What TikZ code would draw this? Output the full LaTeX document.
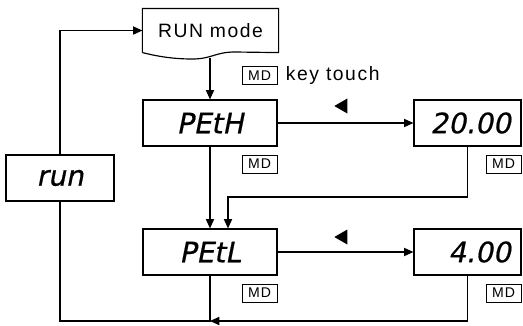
\documentclass[tikz,border=0pt]{standalone}
\usepackage{fontspec}
\setmainfont{Liberation Sans}[LetterSpace=8]
\newfontfamily\segfont{DejaVu Sans}[FakeSlant=0.2, FakeBold=0.6]
\usetikzlibrary{arrows.meta, positioning, shapes.geometric}

\begin{document}
\begin{tikzpicture}[
    x=0.03cm, y=-0.03cm,
    line width=1pt,
    >={Triangle[length=8pt, width=7pt]},
    font=\fontsize{16.5}{18}\selectfont,
    disp/.style={draw, minimum width=4.02cm, minimum height=1.38cm, font=\segfont\fontsize{24}{24}\selectfont},
    dispval/.style={disp, minimum width=3.21cm, text width=2.6cm, align=right},
    mdbox/.style={draw, line width=0.8pt, minimum width=1.05cm, minimum height=0.54cm, inner sep=0pt, font=\fontsize{12}{12}\selectfont},
    leftkey/.style={regular polygon, regular polygon sides=3, shape border rotate=90, fill=black, inner sep=0pt, minimum size=0.52cm},
]
    \useasboundingbox (0,0) rectangle (523,325);

    % RUN mode sheet
    \node[minimum width=4.05cm, minimum height=1.29cm] (runmode) at (210.5,30.5) {RUN mode};
    \draw (runmode.south west) -- (runmode.north west) -- (runmode.north east) -- (runmode.south east) -- (235,52) .. controls (215,52) and (212,59) .. (192,59) .. controls (172,59) and (156,56) .. (runmode.south west);
    \coordinate (wave) at (210,58);

    \node[mdbox] (mdtouch) at (259.5,75.5) {MD};
    \node[right=0.12cm of mdtouch] (touch) {key touch};

    \node[disp] (peth) at (210,123) {PEtH};
    \node[dispval] (pethval) at (467.5,123) {20.00};
    \node[disp] (petl) at (210,252) {PEtL};
    \node[dispval] (petlval) at (467.5,252) {4.00};
    \node[disp, minimum width=3.24cm] (runbox) at (60,178) {run};

    \node[mdbox, below=0.24cm of peth.south east, anchor=north east] (mdh) {MD};
    \node[mdbox, below=0.24cm of pethval.south east, anchor=north east] (mdhv) {MD};
    \node[mdbox, below=0.24cm of petl.south east, anchor=north east] (mdl) {MD};
    \node[mdbox, below=0.24cm of petlval.south east, anchor=north east] (mdlv) {MD};

    % left key marks
    \node[leftkey] (keyh) at (343,106) {};
    \node[leftkey] (keyl) at (343,237) {};

    \draw[->] (runbox.north) |- (runmode.west);
    \draw[->] (wave) -- (wave |- peth.north);
    \draw[->] (peth) -- (pethval);
    \draw[->] (petl) -- (petlval);
    \draw[->] (peth) -- (petl);
    \coordinate (hook) at (228,197);
    \draw[->] (pethval.south) |- (hook) -- (hook |- petl.north);
    \coordinate (bot) at (210,321);
    \draw (runbox.south) |- (bot) -- (petl.south);
    \draw[->] (petlval.south) |- (bot);
\end{tikzpicture}
\end{document}
